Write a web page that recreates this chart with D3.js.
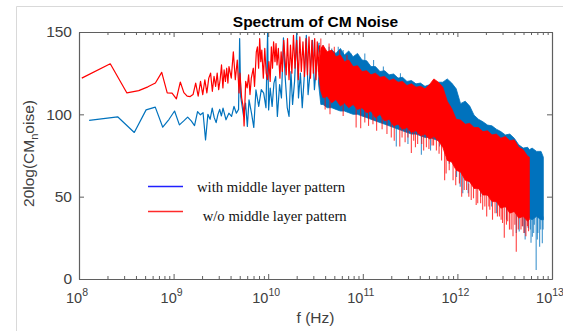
<!DOCTYPE html>
<html>
<head>
<meta charset="utf-8">
<script src="https://cdn.jsdelivr.net/npm/d3@7"></script>
<style>
  body { margin: 0; background: #fff; }
  svg { display: block; font-family: 'Liberation Sans', Arial, sans-serif; }
</style>
</head>
<body>
<div id="chart"></div>
<script>
// frequencies in GHz, levels in dB
const redLine = [
  [0.107,122],[0.214,130.7],[0.321,113],[0.428,114.4],[0.535,116.7],[0.642,119],[0.749,125.5],
  [0.856,113],[0.963,112.9],[1.07,109.4],[1.177,119.6],[1.284,113.2],[1.391,111],[1.498,110.8],
  [1.605,112],[1.712,119],[1.819,111],[1.926,120],[2.033,112],[2.14,121],[2.247,113],[2.354,122],
  [2.461,125],[2.568,114],[2.675,123],[2.782,117],[2.889,125],[2.996,115],[3.103,121],[3.21,130],
  [3.32,116],[3.42,127],[3.53,120],[3.64,128],[3.75,119],[3.85,129],[4.07,122],[4.28,138],
  [4.49,121],[4.71,133],[4.92,113],[5.03,125],[5.24,110],[5.46,104],[5.56,93],[5.78,120],
  [5.99,116],[6.21,124],[6.42,112],[6.63,122],[6.96,128],[7.17,117],[7.49,138],[7.70,141],
  [7.92,128],[8.13,146],[8.35,132],[8.56,139],[8.88,122],[9.20,140],[9.52,125],[9.84,121],
  [10.17,132],[10.49,120],[10.8,141],[11.1,128],[11.4,144],[11.8,132],[12.1,143],[12.4,130],
  [12.8,140],[13.3,122],[13.7,138],[14.1,126],[14.6,145],[15.0,135],[15.5,124],[16,146],
  [16.6,121],[17.2,142],[17.8,125],[18.5,148],[19.2,128],[20,145],[20.8,121],[21.6,147],
  [22.4,126],[23.3,144],[24.2,123],[25.1,146],[26,124],[27,147],[28,122],[29,145],[30,125],
  [31,146],[32,121],[33,144],[34,126],[35,142]
];

const blueLine = [
  [0.128,96.3],[0.256,98.5],[0.384,89],[0.512,102.7],[0.64,104.4],[0.768,92.2],[0.896,97],
  [1.024,102],[1.152,93.6],[1.28,96],[1.408,98.3],[1.536,96],[1.664,93.2],[1.792,101.7],
  [1.92,99.7],[2.048,101],[2.176,84.5],[2.304,100],[2.432,97],[2.56,103.8],[2.688,98],
  [2.816,95],[2.944,100],[3.072,103],[3.2,99],[3.33,103.8],[3.58,96.7],[3.84,100.7],
  [4.10,98.7],[4.35,104.8],[4.61,100.7],[4.86,103],[4.99,146],[5.12,110.8],[5.50,98.7],
  [5.76,106.8],[6.02,92.6],[6.27,108.8],[6.66,100.7],[7.04,92],[7.42,114.9],[7.94,104.8],
  [8.45,115],[8.96,112.9],[9.47,104],[9.86,150],[10.1,102.7],[10.5,116],[11.0,104.8],
  [11.5,119],[12.0,123],[12.5,98.7],[13.2,118],[13.8,110],[14.5,146.5],[15.1,123],[15.9,104],
  [16.6,98.7],[17.4,126],[18.1,106],[19,120],[20,149.6],[20.9,110],[21.9,125],[22.9,104],
  [24.0,122],[25.3,148],[26.4,112],[27.6,124],[29.4,145],[30.8,115],[32.2,128],[34.5,143.5]
];

// dense part of the spectrum: envelope of the solid band
const denseGHz = [34,36,38,42,47,52,58,64,71,79,88,98,110,122,136,152,170,190,212,236,263,293,
  327,365,407,454,506,564,629,701,781,871,971,1080,1210,1350,1500,1670,1860,2080,2320,2580,2880,
  3210,3580,3990,4450,4960,5530,5760,6160,6870,7660,8100];

const redTop = [127,140,142,138,139,135,136,132,133,129,129.5,126,126.5,124,125,122.5,123,120.5,121.5,119.5,120,117.5,
  118.5,116.5,117,115.5,118,121.5,119.5,116.5,108,103.5,97,96.5,94,94.5,92,92,89.5,90,87.5,88,85.5,
  86.5,84,84.5,80,78.5,74.5,74,null,null,null,null];
const redBot = [125,114,110,111,107,109,105,107,104,106,103,104,101,102,98,100,96,97,93,94,91,92,
  89,90,87,88,85,86.5,84,80,72,71,66,65,60,59,55,55,51,51,47,47,43,
  44,40,41,37,38,35,36,null,null,null,null];

const blueTop = [121,132,137,135,139,137,140,136,138.5,135,137,133,132.5,129,129,126,126.5,124,124.5,122,122.5,120,
  120.5,118.5,119,117,118,117.5,119.5,119.5,121.5,119,115.5,106.5,108,105,99.5,97,95.5,93.5,93,91,89.5,
  87.5,88,85.5,81.5,79.5,80,78.5,79.5,77.5,77.5,74];
const blueBot = [119,106,106,104,104,103,102,102,101,100,100,99,98,97,96,95,94,93,92,91,90,89,
  88,88,87,86,86,85,84,82,78,74,70,66,62,59,57,55,53,51,49,47,45,
  44,42,41,40,39,38,37,36,38,36,36];

// isolated spikes: [GHz, from dB, to dB]
const redSpikes = [[36,140,146],[40,118,103],[44,137,143],[45,115,100],[50,136,141],[57,134,139],[62,112,99],
  [68,132,136],[85,110,92],[95,110,91.6],[105,104,95],[115,102,93],[128,106,94],[140,100,90],[160,99,91],
  [180,102,88],[200,96,86],[215,94,84],[246,100,80.4],[260,98,86],[280,92,83],[300,91,86],[326,95,76.5],
  [345,95,84],[360,89,80],[380,94,82],[420,88,82],[440,88,78],[470,92,80],[500,86,79],[540,90,81],
  [560,86,81],[600,90,78],[640,84,76],[680,82,72],[733,88,60],[760,74,64],[820,80,66],[900,70,60],
  [960,66,57],[1050,72,58],[1110,70,50],[1180,62,54],[1250,66,54],[1320,58,50],[1400,62,48],[1480,56,49],
  [1580,55,45],[1640,60,46],[1760,58,46],[1850,52,42],[1950,56,44],[2040,54,38],[2150,50,44],[2200,52,42],
  [2350,48,36],[2500,50,40],[2650,46,38],[2780,48,38],[2900,44,36],[3000,48,34],[3130,46,25],[3300,43,33],
  [3400,46,35],[3550,41,30],[3700,44,30],[3870,44,26],[4050,42,33],[4190,42,16.6],[4400,38,30],
  [4700,42,30],[4850,38,32],[5050,40,28],[5300,40,26],[5500,38,32],[5650,36,29]];
const blueSpikes = [[38,130,142],[44,130,141],[47,132,140],[55,132,141],[62,132,139],[75,132,137],
  [105,130,137],[130,127,133],[165,124,129],[226,95,80.4],[250,120,125],[300,90,82],[416,88,75.4],
  [520,86,78],[649,86,80.4],[820,78,70],[980,70,62],[1070,66,56],[1140,64,52],[1300,60,52],[1760,56,50],
  [2300,52,44],[2600,47,40],[3300,44,36],[4190,42,28],[4500,40,28.8],[4900,39,32],[5100,40,28],
  [5200,38,24],[5600,38,31],[5900,38,30],[6000,37,22],[6200,38,25.7],[6400,37,28],[6500,38,33],
  [6800,38,5.5],[7000,38,24],[7100,38,28],[7400,38,19.6],[7600,37,30],[7700,38,36],[7900,38,21.7],
  [8050,38,30]];

const yTicks = [0, 50, 100, 150];
const xTickExp = [8, 9, 10, 11, 12, 13];
const legendLabels = ['with middle layer pattern', ' w/o middle layer pattern'];

const BLUE = '#0072bd', RED = '#ff0000';

const W = 563, H = 331;
const margin = { top: 32, right: 11, bottom: 52, left: 79 };
const width = W - margin.left - margin.right;
const height = H - margin.top - margin.bottom;

const root = d3.select('#chart').append('svg').attr('width', W).attr('height', H);

// light figure frame
root.append('path')
  .attr('d', `M16.5,${H} L16.5,6.5 L${W},6.5`)
  .attr('fill', 'none').attr('stroke', '#d9d9d9').attr('stroke-width', 1);

const svg = root.append('g').attr('transform', `translate(${margin.left},${margin.top})`);

const x = d3.scaleLog().domain([0.1, 10000]).range([0, width]);
const y = d3.scaleLinear().domain([0, 150]).range([height, 0]);

svg.append('clipPath').attr('id', 'clip')
  .append('rect').attr('width', width).attr('height', height);

const plot = svg.append('g').attr('clip-path', 'url(#clip)');

const line = d3.line().x(d => x(d[0])).y(d => y(d[1]));
const area = d3.area()
  .defined(d => d.hi != null)
  .x(d => x(d.f)).y0(d => y(d.lo)).y1(d => y(d.hi));

function drawSeries(pts, top, bot, spikes, color) {
  plot.append('path').datum(pts)
    .attr('fill', 'none').attr('stroke', color).attr('stroke-width', 1.2)
    .attr('stroke-linejoin', 'round').attr('d', line);

  const band = denseGHz.map((f, i) => ({ f, hi: top[i], lo: bot[i] }));
  plot.append('path').datum(band)
    .attr('fill', color).attr('stroke', color).attr('stroke-width', 0.8)
    .attr('d', area);

  plot.selectAll(null).data(spikes).enter().append('line')
    .attr('x1', d => x(d[0])).attr('x2', d => x(d[0]))
    .attr('y1', d => y(d[1])).attr('y2', d => y(d[2]))
    .attr('stroke', color).attr('stroke-width', 1.1).attr('stroke-opacity', 0.75);
}

drawSeries(blueLine, blueTop, blueBot, blueSpikes, BLUE);
drawSeries(redLine, redTop, redBot, redSpikes, RED);

// axes (ticks pointing inward)
const majorX = xTickExp.map(e => Math.pow(10, e - 9));
const minorX = [];
majorX.slice(0, -1).forEach(v => { for (let k = 2; k < 10; k++) minorX.push(v * k); });

const axisColor = '#5f5f5f';
function styleAxis(g) {
  g.selectAll('path, line').attr('stroke', axisColor);
  g.select('.domain').attr('stroke-width', 1.2);
}

svg.append('g').attr('transform', `translate(0,${height})`)
  .call(d3.axisBottom(x).tickValues(minorX).tickFormat('').tickSizeInner(-3).tickSizeOuter(0)).call(styleAxis);
svg.append('g').attr('transform', `translate(0,${height})`)
  .call(d3.axisBottom(x).tickValues(majorX).tickFormat('').tickSizeInner(-5).tickSizeOuter(0)).call(styleAxis);
svg.append('g')
  .call(d3.axisTop(x).tickValues(minorX).tickFormat('').tickSizeInner(-3).tickSizeOuter(0)).call(styleAxis);
svg.append('g')
  .call(d3.axisTop(x).tickValues(majorX).tickFormat('').tickSizeInner(-5).tickSizeOuter(0)).call(styleAxis);
svg.append('g')
  .call(d3.axisLeft(y).tickValues(yTicks).tickSizeInner(-5).tickSizeOuter(0).tickPadding(7))
  .call(styleAxis)
  .call(g => g.selectAll('text').attr('font-size', 15.5).attr('fill', '#404040')
    .attr('font-family', "'Liberation Sans', Arial, sans-serif"));
svg.append('g').attr('transform', `translate(${width},0)`)
  .call(d3.axisRight(y).tickValues(yTicks).tickFormat('').tickSizeInner(-5).tickSizeOuter(0))
  .call(styleAxis);

// x tick labels 10^n
const xl = svg.append('g').selectAll('text').data(xTickExp).enter().append('text')
  .attr('x', e => x(Math.pow(10, e - 9)) - 2)
  .attr('y', height + 24)
  .attr('text-anchor', 'middle')
  .attr('fill', '#404040')
  .attr('font-size', 14.5);
xl.append('tspan').text('10');
xl.append('tspan').attr('dy', -7).attr('font-size', 10.5).text(e => e);

// title and axis labels
svg.append('text')
  .attr('x', width / 2).attr('y', -5.5)
  .attr('text-anchor', 'middle').attr('font-weight', 'bold')
  .attr('font-size', 15.5).attr('fill', '#000')
  .text('Spectrum of CM Noise');

svg.append('text')
  .attr('x', width / 2).attr('y', height + 44)
  .attr('text-anchor', 'middle').attr('font-size', 15.5).attr('fill', '#404040')
  .text('f (Hz)');

const yl = svg.append('text')
  .attr('transform', `translate(${-margin.left + 34},${height / 2 - 2}) rotate(-90)`)
  .attr('text-anchor', 'middle').attr('font-size', 15.5).attr('fill', '#404040');
yl.append('tspan').text('20log(CM');
yl.append('tspan').attr('dy', 4).attr('font-size', 11).text('n');
yl.append('tspan').attr('dy', -4).text('oise)');

// legend
const legend = svg.append('g').attr('font-family', "'Liberation Serif', 'Times New Roman', serif");
const legendColors = ['#2020ff', '#ff2a2a'];
const legendY = [154.5, 179.5];
const textY = [159.5, 189];
const textX = [118, 120];
legendLabels.forEach((t, i) => {
  legend.append('line')
    .attr('x1', 69).attr('x2', 104)
    .attr('y1', legendY[i]).attr('y2', legendY[i])
    .attr('stroke', legendColors[i]).attr('stroke-width', 1.5);
  legend.append('text')
    .attr('x', textX[i]).attr('y', textY[i])
    .attr('font-size', 14.7).attr('fill', '#111')
    .attr('xml:space', 'preserve')
    .text(t);
});
</script>
</body>
</html>
